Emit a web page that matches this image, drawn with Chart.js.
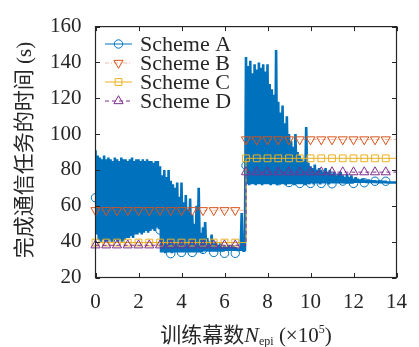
<!DOCTYPE html>
<html>
<head>
<meta charset="utf-8">
<script src="https://cdn.jsdelivr.net/npm/chart.js@4.4.1/dist/chart.umd.min.js"></script>
<style>
html, body { margin: 0; padding: 0; background: #fff; }
</style>
</head>
<body>
<canvas id="myChart" width="419" height="347"></canvas>
<script>
// axis ticks
var xTicks = [0, 2, 4, 6, 8, 10, 12, 14];
var yTicks = [20, 40, 60, 80, 100, 120, 140, 160];

// marker positions (x 10^5 episodes)
var markerX = [0, 0.5, 1, 1.5, 2, 2.5, 3, 3.5, 4, 4.5, 5, 5.5, 6, 6.5,
               7, 7.5, 8, 8.5, 9, 9.5, 10, 10.5, 11, 11.5, 12, 12.5, 13, 13.5];
var schemeA = [64.5, 62, 60, 61, 59, 57, 46.5, 33.3, 34, 34, 35.7, 34, 33.5, 33.5,
               82.5, 76, 75, 74, 73, 72.5, 72.5, 72.5, 72.3, 73.8, 72.5, 72.9, 73.7, 73.7];
var schemeB = [57.5, 57.5, 57.5, 57.5, 57.5, 57.5, 57.5, 57.5, 57.5, 57.5, 57.5, 57.5, 57.5, 57.5,
               97, 97, 97, 97, 97, 97, 97, 97, 97, 97, 97, 97, 97, 97];
var schemeC = [39.5, 39.5, 39.5, 39.5, 39.5, 39.5, 39.5, 39.5, 39.5, 39.5, 39.5, 39.5, 39.5, 39.5,
               86.5, 86.5, 86.5, 86.5, 86.5, 86.5, 86.5, 86.5, 86.5, 86.5, 86.5, 86.5, 86.5, 86.5];
var schemeD = [38, 38, 38, 38, 38, 38, 38, 38, 38, 38, 38, 38, 38, 38,
               78.8, 78.8, 78.8, 78.8, 78.8, 78.8, 78.8, 78.8, 78.8, 78.8, 78.8, 78.8, 78.8, 78.8];

// B, C, D are flat, with a jump at 7
var stepX = [0, 7, 7, 14];
var lineB = [57.5, 57.5, 97, 97];
var lineC = [39.5, 39.5, 86.5, 86.5];
var lineD = [38, 38, 78.8, 78.8];

// scheme A raw trace: upper / lower extent read every 0.1
var traceStep = 0.1;
var traceHigh = [
  91, 88, 87, 86, 88, 86, 87, 86, 85, 87, 86, 85, 87, 86, 86, 85, 86, 87, 85, 86,
  86, 85, 86, 85, 86, 85, 85, 84, 85, 85,
  82, 77, 80, 76, 80, 74, 72, 70, 73, 65, 73, 62, 66, 58, 64, 55, 50, 60, 70, 45,
  48, 51, 42, 40, 44, 39, 40, 38, 39, 37, 38, 37, 38, 37, 38, 37, 36, 36, 56, 35,
  143, 138, 141, 134, 139, 136, 140, 137, 139, 135,
  139, 128, 125, 122, 147, 118, 112, 116, 106, 110,
  100, 96, 93, 100, 90, 88, 86, 85, 104, 84,
  82, 81, 83, 80, 81, 80, 79, 81, 79, 80,
  78, 79, 77, 78, 79, 77, 76, 78, 76, 77,
  75, 76, 75, 74.5, 75, 74.5, 74, 74.5, 74, 74,
  74, 73.5, 74, 73.5, 73.5, 73.5, 73, 73, 73, 73
];
var traceLow = [
  44, 41, 40, 41, 40, 40, 41, 40, 40, 41, 40, 41, 40, 41, 42, 42, 43, 42, 44, 44,
  45, 44, 45, 46, 45, 46, 47, 46, 48, 47,
  34, 34, 33.5, 34, 34, 33.5, 34, 34, 34, 34, 34, 34, 34, 34, 34, 34, 34, 34, 34, 34,
  34.5, 34.5, 34.5, 34.5, 34.5, 34.5, 34.5, 34.5, 34.5, 34.5, 35, 35, 35, 35, 35, 35, 35, 35, 35, 35,
  72, 71.5, 72, 72, 71.5, 72, 72, 71.5, 72, 72,
  72, 71.5, 72, 72, 71.5, 72, 72, 72, 71.5, 72,
  72, 72, 71.5, 72, 72, 72, 72, 71.5, 72, 72,
  72.5, 72, 72.5, 72.5, 72, 72.5, 72.5, 72.5, 72, 72.5,
  72.5, 72.5, 72.5, 72.5, 72.5, 72.5, 72.5, 72.5, 72.5, 72.5,
  73, 73, 73, 73, 73, 73, 73, 73, 73, 73,
  73, 73, 73, 73, 73, 73, 73, 73, 73, 73
];
var traceEnd = 73;

var seriesNames = ['Scheme A', 'Scheme B', 'Scheme C', 'Scheme D'];

var serif = '"Liberation Serif", "DejaVu Serif", serif';
var cjk = '"Noto Sans CJK SC", sans-serif';
var textColor = '#262626';

function pts(xs, ys) {
  return xs.map(function (x, i) { return { x: x, y: ys[i] }; });
}

var tracePts = [];
for (var i = 0; i < traceHigh.length; i++) {
  tracePts.push({ x: i * traceStep, y: traceHigh[i] });
  tracePts.push({ x: i * traceStep + traceStep / 2, y: traceLow[i] });
}
tracePts.push({ x: 14, y: traceEnd });

var styles = [
  { color: '#0072BD', lineColor: '#0072BD', dash: [], point: 'circle', radius: 4.2, rot: 0 },
  { color: '#D95319', lineColor: 'rgba(217,83,25,0.4)', dash: [4, 2, 1, 2], point: 'triangle', radius: 5.3, rot: 180 },
  { color: '#EDB120', lineColor: '#EDB120', dash: [], point: 'rect', radius: 4.8, rot: 0 },
  { color: '#7E2F8E', lineColor: '#7E2F8E', dash: [4, 3], point: 'triangle', radius: 5.3, rot: 0 }
];

function markerSet(vals, s, order) {
  return {
    data: pts(markerX, vals), showLine: false, order: order, clip: false,
    pointStyle: s.point, pointRadius: s.radius, pointRotation: s.rot,
    pointBorderColor: s.color, pointBackgroundColor: 'rgba(0,0,0,0)', pointBorderWidth: 1
  };
}
function lineSet(vals, s, order) {
  return {
    data: pts(stepX, vals), borderColor: s.lineColor, borderWidth: 1, borderDash: s.dash,
    pointRadius: 0, tension: 0, fill: false, order: order
  };
}

var framePlugin = {
  id: 'frame',
  afterDraw: function (chart) {
    var ctx = chart.ctx, a = chart.chartArea;
    var xs = chart.scales.x, ys = chart.scales.y;
    ctx.save();
    // box and inward ticks
    ctx.strokeStyle = textColor;
    ctx.lineWidth = 1.2;
    ctx.strokeRect(a.left, a.top, a.right - a.left, a.bottom - a.top);
    ctx.lineWidth = 1;
    ctx.beginPath();
    xTicks.forEach(function (v) {
      var px = Math.round(xs.getPixelForValue(v)) + 0.5;
      ctx.moveTo(px, a.bottom); ctx.lineTo(px, a.bottom - 4.5);
      ctx.moveTo(px, a.top); ctx.lineTo(px, a.top + 4.5);
    });
    yTicks.forEach(function (v) {
      var py = Math.round(ys.getPixelForValue(v)) + 0.5;
      ctx.moveTo(a.left, py); ctx.lineTo(a.left + 4.5, py);
      ctx.moveTo(a.right, py); ctx.lineTo(a.right - 4.5, py);
    });
    ctx.stroke();

    // legend
    var lx0 = 105, lx1 = 132, tx = 140, ly = 44, step = 19;
    ctx.textBaseline = 'middle';
    ctx.textAlign = 'left';
    styles.forEach(function (s, k) {
      var y = ly + k * step;
      ctx.strokeStyle = s.lineColor;
      ctx.setLineDash(s.dash);
      ctx.lineWidth = 1;
      ctx.beginPath(); ctx.moveTo(lx0, y); ctx.lineTo(lx1, y); ctx.stroke();
      ctx.setLineDash([]);
      ctx.strokeStyle = s.color;
      ctx.fillStyle = 'rgba(0,0,0,0)';
      Chart.helpers.drawPoint(ctx, { pointStyle: s.point, radius: s.radius, rotation: s.rot, borderWidth: 1 }, (lx0 + lx1) / 2, y);
      ctx.fillStyle = textColor;
      ctx.font = '22px ' + serif;
      ctx.fillText(seriesNames[k], tx, y + 1);
    });

    // y title
    ctx.fillStyle = textColor;
    ctx.save();
    ctx.translate(23, 150);
    ctx.rotate(-Math.PI / 2);
    ctx.textBaseline = 'alphabetic';
    var yt1 = '完成通信任务的时间', yt2 = ' (s)';
    ctx.font = '21px ' + cjk;
    var w1 = ctx.measureText(yt1).width;
    ctx.font = '21px ' + serif;
    var w2 = ctx.measureText(yt2).width;
    var sx = -(w1 + w2) / 2;
    ctx.font = '21px ' + cjk;
    ctx.fillText(yt1, sx, 8);
    ctx.font = '21px ' + serif;
    ctx.fillText(yt2, sx + w1, 8);
    ctx.restore();

    // x title
    var parts = [
      { t: '训练幕数', f: '21px ' + cjk, dy: 0 },
      { t: 'N', f: 'italic 22px ' + serif, dy: 0 },
      { t: 'epi', f: '12px ' + serif, dy: 3 },
      { t: ' (×10', f: '21px ' + serif, dy: 0 },
      { t: '5', f: '12px ' + serif, dy: -9 },
      { t: ')', f: '21px ' + serif, dy: 0 }
    ];
    var total = 0;
    parts.forEach(function (p) { ctx.font = p.f; p.w = ctx.measureText(p.t).width; total += p.w; });
    var cx = (a.left + a.right) / 2 - total / 2, base = 342;
    ctx.textBaseline = 'alphabetic';
    parts.forEach(function (p) {
      ctx.font = p.f;
      ctx.fillText(p.t, cx, base + p.dy);
      cx += p.w;
    });
    ctx.restore();
  }
};

var myChart = document.getElementById('myChart').getContext('2d');
var chart = new Chart(myChart, {
  type: 'line',
  data: {
    datasets: [
      markerSet(schemeD, styles[3], 1),
      lineSet(lineD, styles[3], 2),
      markerSet(schemeC, styles[2], 3),
      lineSet(lineC, styles[2], 4),
      markerSet(schemeB, styles[1], 5),
      lineSet(lineB, styles[1], 6),
      markerSet(schemeA, styles[0], 7),
      {
        data: tracePts, borderColor: '#0072BD', borderWidth: 2.6, pointRadius: 0,
        borderJoinStyle: 'bevel', tension: 0, fill: false, order: 8
      }
    ]
  },
  options: {
    responsive: false,
    animation: false,
    events: [],
    layout: { padding: { left: 0, right: 11.5, top: 21, bottom: 0 } },
    plugins: { legend: { display: false }, tooltip: { enabled: false } },
    scales: {
      x: {
        type: 'linear', min: 0, max: 14,
        afterBuildTicks: function (s) { s.ticks = xTicks.map(function (v) { return { value: v }; }); },
        afterFit: function (s) { s.height = 69.5; },
        grid: { display: false, drawTicks: false },
        border: { display: false },
        ticks: { font: { family: serif, size: 21 }, color: textColor, padding: 12, maxRotation: 0, autoSkip: false }
      },
      y: {
        type: 'linear', min: 20, max: 160,
        afterBuildTicks: function (s) { s.ticks = yTicks.map(function (v) { return { value: v }; }); },
        afterFit: function (s) { s.width = 95.5; },
        grid: { display: false, drawTicks: false },
        border: { display: false },
        ticks: { font: { family: serif, size: 21 }, color: textColor, padding: 14, autoSkip: false }
      }
    }
  },
  plugins: [framePlugin]
});
</script>
</body>
</html>
